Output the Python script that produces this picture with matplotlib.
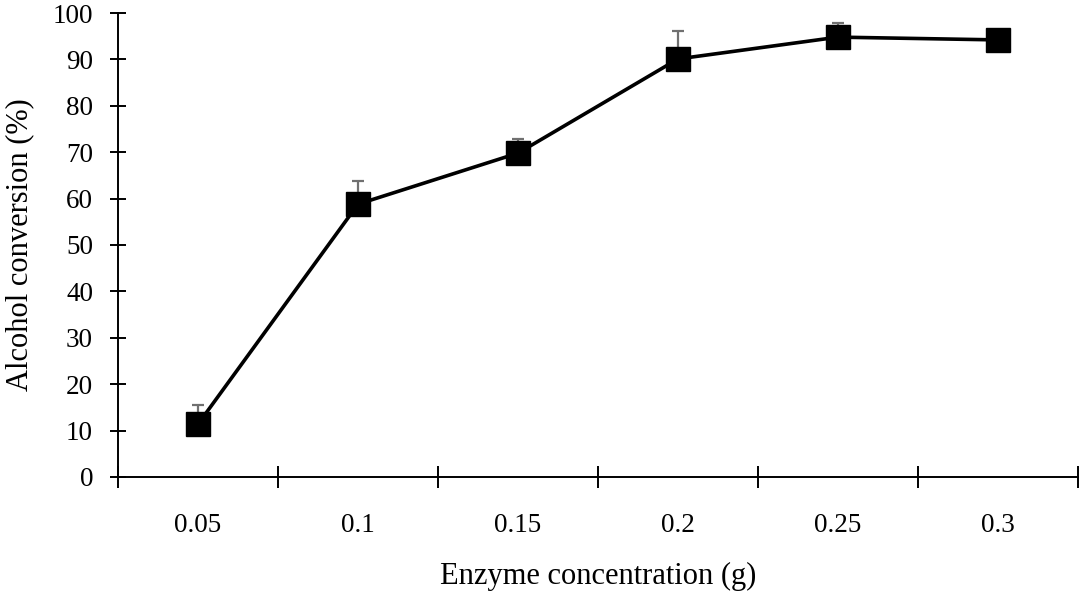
import matplotlib.pyplot as plt
import numpy as np
from matplotlib import rcParams

rcParams['font.family'] = 'serif'
rcParams['font.serif'] = ['Liberation Serif', 'DejaVu Serif']
rcParams['font.size'] = 19

### datos ###
categorias = ['0.05', '0.1', '0.15', '0.2', '0.25', '0.3']
conversion = [11.4, 58.8, 69.8, 90.1, 94.8, 94.2]
error_sup = [4.1, 5.0, 3.0, 6.0, 3.0, 0.0]

x = np.arange(len(categorias))

fig = plt.figure(figsize=(10.84, 5.91), dpi=100)
ax = fig.add_axes([0.1089, 0.193, 0.8856, 0.785])

ax.errorbar(x, conversion, yerr=[np.zeros(len(x)), error_sup], fmt='none',
            ecolor='#707070', elinewidth=1.6, capsize=4.5, capthick=1.6, zorder=2)
ax.plot(x, conversion, color='black', lw=2.6, marker='s', markersize=17,
        markerfacecolor='black', markeredgecolor='black', zorder=3)

ax.set_xlim(-0.5, len(x) - 0.5)
ax.set_ylim(0, 100)
ax.set_yticks(np.arange(0, 101, 10))
ax.set_xticks(x)
ax.set_xticklabels(categorias)
ax.set_xticks(np.arange(-0.5, len(x), 1), minor=True)

ax.spines['top'].set_visible(False)
ax.spines['right'].set_visible(False)
for s in ['left', 'bottom']:
    ax.spines[s].set_linewidth(1.4)

ax.tick_params(axis='y', direction='inout', length=12, width=1.4, pad=12, labelsize=19.5)
ax.tick_params(axis='x', which='major', length=0, pad=26, labelsize=19.5)
ax.tick_params(axis='x', which='minor', direction='inout', length=16, width=1.4)

ax.set_xlabel('Enzyme concentration (g)', fontsize=22, labelpad=17)
ax.set_ylabel('Alcohol conversion (%)', fontsize=22, labelpad=13)

plt.savefig('out.png', dpi=100)
